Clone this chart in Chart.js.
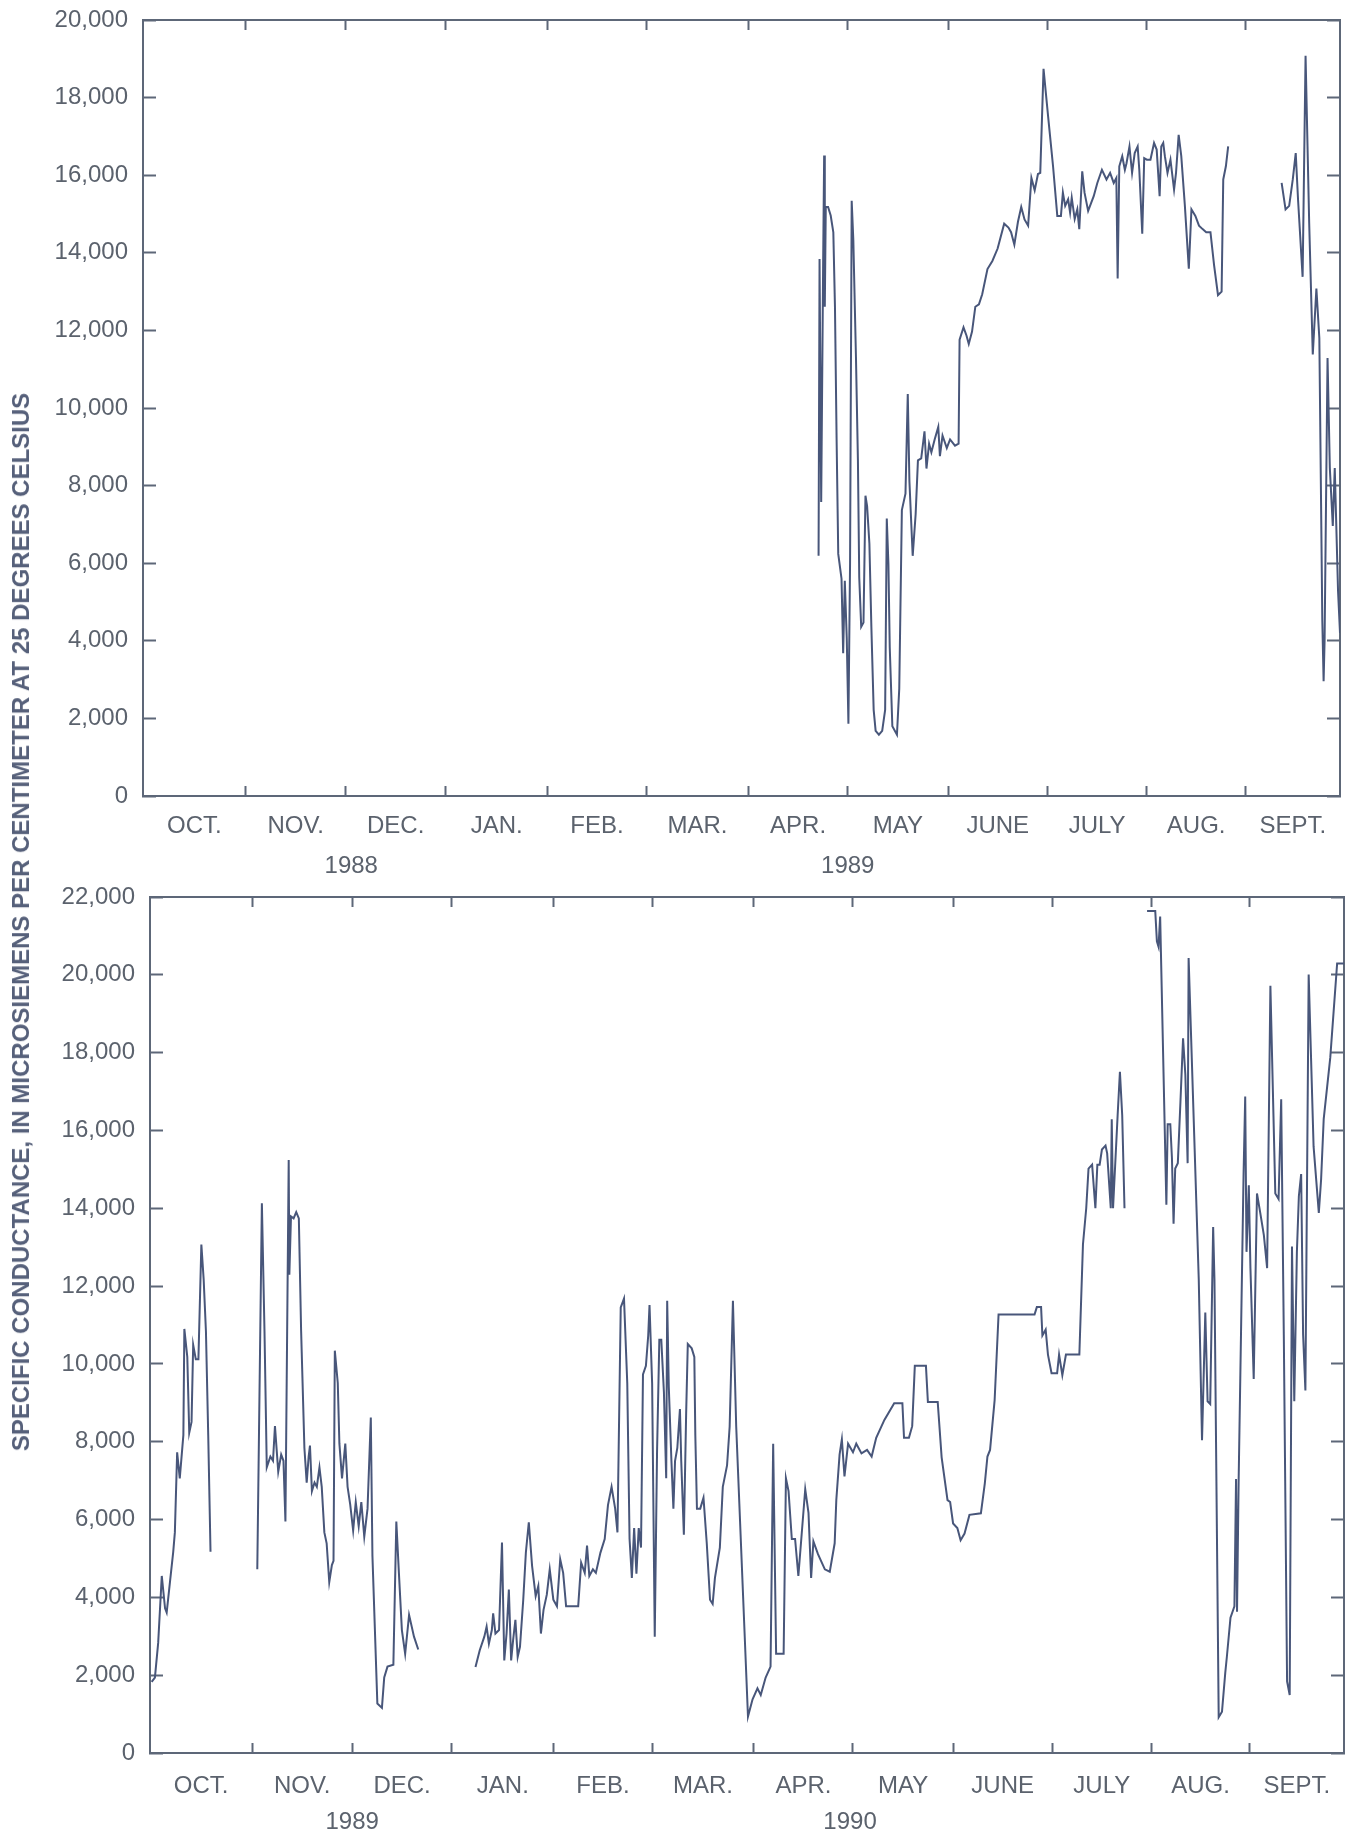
<!DOCTYPE html>
<html>
<head>
<meta charset="utf-8">
<script src="https://cdn.jsdelivr.net/npm/chart.js@4.4.0/dist/chart.umd.min.js"></script>
<style>
html,body{margin:0;padding:0;background:#fff;}
#wrap{position:relative;width:1352px;height:1838px;overflow:hidden;background:#fff;}
#c1{position:absolute;left:0;top:0;}
#c2{position:absolute;left:0;top:880px;}
#ytitle{position:absolute;left:21px;top:922px;transform:translate(-50%,-50%) rotate(-90deg);white-space:nowrap;
  font:bold 24px "Liberation Sans", Arial, sans-serif;color:#56607a;}
</style>
</head>
<body>
<div id="wrap">
<canvas id="c1" width="1352" height="880"></canvas>
<canvas id="c2" width="1352" height="958"></canvas>
<div id="ytitle">SPECIFIC CONDUCTANCE, IN MICROSIEMENS PER CENTIMETER AT 25 DEGREES CELSIUS</div>
</div>
<script>
// ---------- axis labels ----------
const monthNames = ['OCT.','NOV.','DEC.','JAN.','FEB.','MAR.','APR.','MAY','JUNE','JULY','AUG.','SEPT.'];
// month boundaries as drawn on the original (days from Oct 1)
const monthBounds = [0, 31.3, 61.8, 92.3, 123.4, 153.5, 184.6, 214.9, 245.5, 275.8, 306.1, 336.2, 365];
const topYearLabels = ['1988', '1989'];
const topYearPos = [63.5, 214.9];
const botYearLabels = ['1989', '1990'];
const botYearPos = [61.8, 214.0];
const topYTicks = [0,2000,4000,6000,8000,10000,12000,14000,16000,18000,20000];
const botYTicks = [0,2000,4000,6000,8000,10000,12000,14000,16000,18000,20000,22000];

// ---------- water year 1989 (Oct 1988 - Sep 1989) ----------
const topDays = [206.0,206.3,206.8,207.4,207.7,207.9,208.2,208.9,209.7,210.5,211.0,211.5,212.0,213.0,213.5,214.0,214.6,215.1,215.6,216.1,216.6,217.4,218.0,218.4,219.0,219.7,220.3,220.8,221.5,222.1,222.8,223.4,224.4,225.4,226.3,226.8,227.3,227.7,228.5,229.9,230.6,231.4,232.5,233.2,233.7,234.7,235.6,236.3,237.3,238.3,238.9,239.7,240.4,241.4,242.5,243.0,243.8,245.1,246.1,247.6,248.7,249.0,250.2,251.1,251.8,252.8,253.8,254.9,255.9,257.5,259.0,260.6,262.6,263.9,264.7,265.7,266.8,267.8,268.8,269.9,270.9,271.9,272.9,273.6,274.6,276.0,277.5,278.8,279.9,280.5,281.2,282.1,282.7,283.2,284.1,284.9,285.5,286.4,287.1,288.2,289.9,291.0,292.4,293.8,294.9,296.0,296.8,297.2,297.7,298.6,299.4,299.9,300.8,301.6,302.4,303.3,303.8,304.7,305.3,306.1,307.2,308.3,309.1,310.0,310.5,311.1,311.6,312.4,313.3,314.4,315.0,315.8,316.6,317.7,318.9,319.7,320.9,322.0,323.1,324.2,325.5,326.6,327.8,328.9,329.4,330.2,330.9,
  339,
  347.2,348.4,349.5,350.6,351.5,352.2,353.6,354.5,355.6,356.7,357.8,358.7,359.6,360.0,360.3,361.2,361.9,362.8,363.4,364.4,365];
const topValues = [6190,13840,7580,13780,16510,12610,15180,15180,14960,14530,12610,9190,6240,5600,3680,5550,4050,1860,5970,15340,14320,11320,8650,5640,4360,4470,7740,7470,6500,4360,2220,1680,1580,1680,2220,7150,5970,3840,1800,1580,2760,7370,7790,10360,8120,6190,7260,8650,8700,9400,8440,9080,8860,9190,9510,8760,9290,8970,9190,9030,9080,11760,12080,11870,11650,11970,12610,12670,12930,13580,13790,14110,14750,14650,14530,14210,14800,15180,14860,14700,15930,15610,16030,16060,18740,17510,16230,14950,14950,15550,15210,15380,15040,15420,14870,15120,14610,16100,15550,15080,15460,15800,16140,15890,16060,15800,15930,13340,16230,16490,16140,16310,16740,16060,16570,16740,16140,14490,16440,16400,16400,16830,16660,15460,16740,16830,16490,16060,16400,15630,16060,17040,16490,15210,13590,15120,14950,14700,14610,14530,14530,13680,12910,13000,15890,16230,16740,
  null,
  15800,15120,15210,15890,16570,15380,13380,19080,14780,11380,13080,11800,4540,2960,4000,11290,8450,6960,8450,5290,4200];

// ---------- water year 1990 (Oct 1989 - Sep 1990) ----------
const botDays = [0.5,1.5,2.5,3.6,4.6,5.1,6.1,7.1,7.6,8.3,9.1,10.2,10.5,11.4,12.0,12.7,13.2,14.0,14.8,15.7,16.4,17.1,17.8,18.5,
  25,
  32.8,34.2,35.0,35.7,36.8,37.6,38.2,39.2,40.1,40.8,41.4,42.4,42.6,43.1,43.9,44.7,45.5,46.2,47.2,47.9,48.5,48.9,49.5,50.3,51.0,51.8,52.5,53.3,54.0,54.8,55.6,56.1,56.5,57.4,57.9,58.7,59.7,60.4,61.2,62.1,62.9,63.8,64.6,65.5,66.5,67.5,68.0,69.5,70.9,71.6,72.6,74.4,75.3,76.1,77.0,78.0,79.2,80.7,82.0,
  90,
  99.5,100.8,102.2,102.9,103.6,104.5,104.9,105.6,106.7,107.6,108.3,109.0,109.7,110.4,111.0,111.7,112.4,113.1,114.1,114.9,115.8,116.8,117.9,118.7,119.5,120.3,121.3,122.2,123.3,124.4,125.4,126.3,127.2,130.9,131.8,132.9,133.6,134.3,135.4,136.3,137.7,139.0,140.0,141.1,142.2,142.9,
  143.9,144.9,145.9,146.6,147.3,148.0,148.7,149.4,150.1,150.7,151.6,152.3,152.7,153.5,154.3,155.0,155.7,156.3,157.1,157.8,158.1,158.6,159.4,160.0,160.5,161.2,162.0,162.4,163.2,163.9,164.4,165.6,166.4,166.7,167.2,168.2,169.2,170.2,171.2,172.0,172.7,174.2,175.1,176.4,177.2,178.2,179.2,182.8,184.2,185.7,186.7,188.2,189.7,190.5,191.4,193.7,194.4,195.2,196.2,197.2,198.2,199.2,200.3,201.3,202.1,202.8,204.2,206.3,207.8,209.3,209.8,210.8,211.5,212.3,213.4,214.9,215.9,
  217.5,219.2,220.6,222.0,224.5,227.5,230.0,230.5,232.0,233.0,233.8,237.2,237.8,240.8,242.0,243.8,244.6,245.5,246.8,247.8,249.0,250.5,254.0,255.2,256.0,256.8,258.2,259.4,270.4,271.1,272.4,272.8,273.8,274.5,275.6,277.3,277.9,278.9,280.0,284.1,285.2,286.2,286.9,288.0,289.0,289.6,290.3,291.0,292.1,292.6,293.7,294.0,294.4,295.8,296.5,297.2,297.9,
  301,
  304.8,307.3,307.8,308.3,308.8,310.7,311.1,311.9,312.4,312.9,313.4,314.2,315.0,315.8,316.5,317.2,317.5,320.6,321.6,322.6,323.3,324.1,325.0,325.4,326.7,327.7,328.7,329.2,330.3,331.5,332.0,332.3,332.8,334.3,334.8,335.2,335.9,336.4,337.4,338.4,339.4,340.5,341.5,342.5,344.0,345.0,345.8,346.6,347.6,348.4,349.1,349.8,350.6,351.2,351.9,352.5,353.2,354.2,355.7,357.3,358.0,358.8,360.8,362.9,365.0];
const botValues = [1830,1940,2830,4550,3720,3610,4390,5170,5670,7730,7060,8170,10900,10180,8230,8510,10490,10120,10120,13070,12180,10840,8170,5170,
  null,
  4720,14130,10840,7340,7620,7510,8400,7230,7670,7510,5950,15240,12290,13790,13740,13900,13740,10840,7840,6950,7620,7900,6730,6950,6840,7340,6840,5670,5390,4390,4830,4940,10340,9510,7950,7060,7950,6840,6390,5720,6450,5830,6450,5560,6280,8620,5060,1270,1160,1940,2220,2270,5950,4610,3160,2550,3550,2990,2660,
  null,
  2210,2640,2990,3250,2810,3160,3590,3070,3160,5410,2380,3070,4200,2380,2900,3420,2470,2730,3940,5150,5930,4810,4030,4290,3070,3680,4070,4720,3940,3770,4980,4630,3770,3770,4890,4630,5330,4550,4720,4630,5150,5500,6370,6840,6280,5670,
  11450,11680,9500,5500,4500,5780,4610,5780,5280,9730,9950,10730,11510,9500,2990,7730,10620,10620,9280,7060,11620,9390,7500,6280,7500,7840,8840,7500,5610,8730,10510,10400,10180,8170,6280,6280,6560,5390,3940,3830,4500,5280,6840,7390,8390,11620,8390,935,1380,1660,1490,1940,2220,7950,2550,2550,7060,6730,5500,5500,4550,5610,6780,6170,4500,5440,5110,4720,4660,5390,6500,7670,8060,7110,7950,7730,7950,
  7700,7790,7620,8100,8560,8990,8990,8100,8100,8400,9950,9950,9020,9020,7600,6500,6450,5900,5780,5470,5640,6120,6160,6930,7620,7790,9070,11270,11270,11460,11460,10730,10880,10240,9760,9760,10240,9710,10240,10240,13070,14000,15020,15120,14000,15120,15120,15510,15610,15410,14000,16290,14000,16390,17510,16390,14000,
  null,
  21640,21640,20860,20720,21500,14090,16160,16160,15300,13600,15020,15160,16730,18370,17440,15160,20430,12170,8040,11320,9040,8970,13520,12170,920,1060,2060,2480,3480,3770,7040,3630,7040,14880,16870,12880,14590,12460,9610,14380,13880,13310,12460,19720,14380,14240,16800,10750,1840,1490,13020,9040,12880,14310,14880,10750,9320,20010,15590,13880,14740,16300,17870,20290,20290];

// ---------- styling ----------
const FONT = '"Liberation Sans", Arial, sans-serif';
const TEXT = '#5b626d';
const AXIS = '#5d6778';
const LINE = '#48567a';
const TICK_FONT = { family: FONT, size: 24 };

const monthMids = monthNames.map((_, i) => (monthBounds[i] + monthBounds[i + 1]) / 2);
const innerBounds = monthBounds.slice(1, -1);
const near = (a, b) => Math.abs(a - b) < 1e-6;

function fixBox(s, w, h) {
  if (w !== null) s.width = w;
  if (h !== null) s.height = h;
  s.paddingTop = 0; s.paddingBottom = 0; s.paddingLeft = 0; s.paddingRight = 0;
}

function makeChart(id, days, values, yMax, yTicks, years, yearPos, L) {
  const pts = days.map((d, i) => ({ x: d, y: values[i] }));
  const xTicks = innerBounds.concat(monthMids).sort((a, b) => a - b);
  return new Chart(document.getElementById(id), {
    type: 'line',
    data: { datasets: [{ data: pts, borderColor: LINE, borderWidth: 2, pointRadius: 0, tension: 0, spanGaps: false, fill: false }] },
    options: {
      responsive: false, animation: false, devicePixelRatio: 1,
      layout: { padding: 0 },
      plugins: { legend: { display: false }, tooltip: { enabled: false } },
      scales: {
        x: {
          type: 'linear', position: 'bottom', min: 0, max: 365, weight: 0,
          afterBuildTicks: ax => { ax.ticks = xTicks.map(v => ({ value: v })); },
          afterFit: s => fixBox(s, null, L.xH),
          ticks: {
            autoSkip: false, maxRotation: 0, minRotation: 0, padding: L.xPad, color: TEXT, font: TICK_FONT,
            callback: v => { const i = monthMids.findIndex(m => near(m, v)); return i >= 0 ? monthNames[i] : ''; }
          },
          grid: {
            drawOnChartArea: false, drawTicks: true, tickLength: -10, tickWidth: 2,
            tickColor: ctx => (ctx.tick && innerBounds.some(b => near(b, ctx.tick.value))) ? AXIS : 'rgba(0,0,0,0)'
          },
          border: { display: true, color: AXIS, width: 2 }
        },
        xYear: {
          type: 'linear', position: 'bottom', min: 0, max: 365, weight: 1,
          afterBuildTicks: ax => { ax.ticks = yearPos.map(v => ({ value: v })); },
          afterFit: s => fixBox(s, null, L.yearH),
          ticks: {
            autoSkip: false, maxRotation: 0, padding: L.yearPad, color: TEXT, font: TICK_FONT,
            callback: v => { const i = yearPos.findIndex(m => near(m, v)); return i >= 0 ? years[i] : ''; }
          },
          grid: { display: false, drawTicks: false },
          border: { display: false }
        },
        xTop: {
          type: 'linear', position: 'top', min: 0, max: 365,
          afterBuildTicks: ax => { ax.ticks = innerBounds.map(v => ({ value: v })); },
          afterFit: s => fixBox(s, null, L.top),
          ticks: { display: false },
          grid: { drawOnChartArea: false, drawTicks: true, tickLength: -10, tickWidth: 2, tickColor: AXIS },
          border: { display: true, color: AXIS, width: 2 }
        },
        y: {
          type: 'linear', position: 'left', min: 0, max: yMax,
          afterBuildTicks: ax => { ax.ticks = yTicks.map(v => ({ value: v })); },
          afterFit: s => fixBox(s, L.left, null),
          ticks: {
            padding: 28, color: TEXT, font: TICK_FONT,
            callback: v => v.toLocaleString('en-US')
          },
          grid: { drawOnChartArea: false, drawTicks: true, tickLength: -13, tickWidth: 2, tickColor: AXIS },
          border: { display: true, color: AXIS, width: 2 }
        },
        yRight: {
          type: 'linear', position: 'right', min: 0, max: yMax,
          afterBuildTicks: ax => { ax.ticks = yTicks.map(v => ({ value: v })); },
          afterFit: s => fixBox(s, L.right, null),
          ticks: { display: false },
          grid: { drawOnChartArea: false, drawTicks: true, tickLength: -13, tickWidth: 2, tickColor: AXIS },
          border: { display: true, color: AXIS, width: 2 }
        }
      }
    }
  });
}

makeChart('c1', topDays, topValues, 20000, topYTicks, topYearLabels, topYearPos,
  { left: 143, right: 12, top: 20, xH: 50, yearH: 34, xPad: 26, yearPad: 6 });
makeChart('c2', botDays, botValues, 22000, botYTicks, botYearLabels, botYearPos,
  { left: 150, right: 8, top: 17, xH: 50, yearH: 35, xPad: 29, yearPad: 5 });
</script>
</body>
</html>
